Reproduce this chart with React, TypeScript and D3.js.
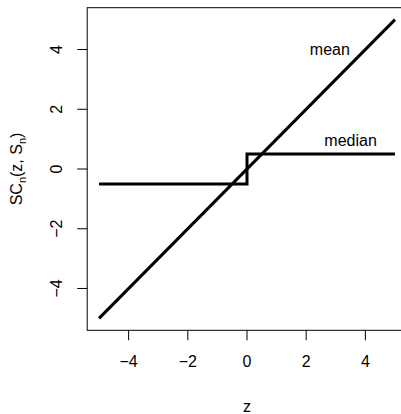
import React from "react";
import * as d3 from "d3";

const meanZ = [-5, 5];
const meanVal = [-5, 5];
const medianZ = [-5, 0, 0, 5];
const medianVal = [-0.5, -0.5, 0.5, 0.5];
const xTicks = [-4, -2, 0, 2, 4];
const yTicks = [-4, -2, 0, 2, 4];
const labels = [
  { text: "mean", z: 2.8, v: 4.0 },
  { text: "median", z: 3.5, v: 0.95 },
];

const W = 401;
const H = 414;
const font = "'Liberation Sans', Arial, Helvetica, sans-serif";
const fmt = (d: number) => (d < 0 ? "\u2212" + Math.abs(d) : String(d));

export default function App() {
  const x = d3.scaleLinear().domain([-5.4, 5.4]).range([87.2, 406.8]);
  const y = d3.scaleLinear().domain([-5.4, 5.4]).range([330.3, 7.7]);
  const line = d3
    .line<[number, number]>()
    .x((d) => x(d[0]))
    .y((d) => y(d[1]));
  const meanPts = meanZ.map((z, i) => [z, meanVal[i]] as [number, number]);
  const medPts = medianZ.map((z, i) => [z, medianVal[i]] as [number, number]);
  const [x0, x1] = x.range();
  const [y0, y1] = y.range();
  return (
    <svg
      width={W}
      height={H}
      style={{ position: "absolute", left: 0, top: 0, background: "#fff" }}
      fontFamily={font}
    >
      <rect x={0} y={0} width={W} height={H} fill="#fff" />
      <path d={line(meanPts) || ""} fill="none" stroke="#000" strokeWidth={3} />
      <path d={line(medPts) || ""} fill="none" stroke="#000" strokeWidth={3} strokeLinejoin="miter" />
      {labels.map((l) => (
        <text key={l.text} x={x(l.z)} y={y(l.v)} textAnchor="middle" dominantBaseline="central" fontSize={16}>
          {l.text}
        </text>
      ))}
      <rect x={x0} y={y1} width={x1 - x0} height={y0 - y1} fill="none" stroke="#000" strokeWidth={1} />
      {xTicks.map((t) => (
        <g key={"x" + t}>
          <line x1={x(t)} x2={x(t)} y1={y0} y2={y0 + 10} stroke="#000" />
          <text x={x(t)} y={y0 + 31} textAnchor="middle" dominantBaseline="central" fontSize={16}>
            {fmt(t)}
          </text>
        </g>
      ))}
      {yTicks.map((t) => (
        <g key={"y" + t}>
          <line x1={x0 - 10} x2={x0} y1={y(t)} y2={y(t)} stroke="#000" />
          <text
            transform={`translate(${56.7},${y(t)}) rotate(-90)`}
            textAnchor="middle"
            dominantBaseline="central"
            fontSize={16}
          >
            {fmt(t)}
          </text>
        </g>
      ))}
      <text x={(x0 + 406.8) / 2 - 87.2 / 2 + 87.2 / 2} y={406} textAnchor="middle" dominantBaseline="central" fontSize={16}>
        z
      </text>
      <text
        transform={`translate(${22},${(y0 + y1) / 2}) rotate(-90)`}
        textAnchor="middle"
        fontSize={16}
      >
        SC<tspan fontSize={11} dy={4}>n</tspan>
        <tspan dy={-4}>(z, S</tspan>
        <tspan fontSize={11} dy={4}>n</tspan>
        <tspan dy={-4}>)</tspan>
      </text>
    </svg>
  );
}
